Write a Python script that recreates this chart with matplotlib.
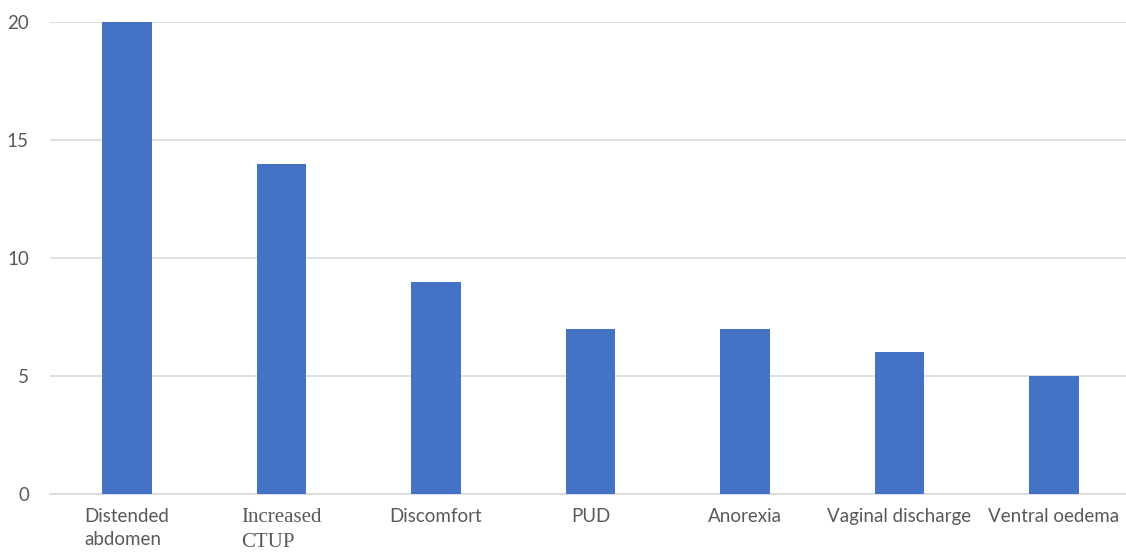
import matplotlib.pyplot as plt
import numpy as np

# symptoms and counts
categories = ['Distended\nabdomen', 'Increased\nCTUP', 'Discomfort', 'PUD',
              'Anorexia', 'Vaginal discharge', 'Ventral oedema']
values = [20, 14, 9, 7, 7, 6, 5]
yticks = [0, 5, 10, 15, 20]

plt.rcParams['font.family'] = ['Lato', 'DejaVu Sans']

fig = plt.figure(figsize=(11.26, 5.53), dpi=100)
ax = fig.add_axes([49.75 / 1126, 59 / 553, 1081.5 / 1126, 472 / 553])

x = np.arange(len(categories))
ax.bar(x, values, width=0.32, color='#4472c4', zorder=3)

ax.set_xlim(-0.5, len(categories) - 0.5)
ax.set_ylim(0, 20)
ax.set_yticks(yticks)
ax.set_yticklabels([str(t) for t in yticks])
ax.grid(axis='y', color='#d9d9d9', linewidth=1.2, zorder=0)

for s in ['top', 'right', 'left']:
    ax.spines[s].set_visible(False)
ax.spines['bottom'].set_color('#d9d9d9')
ax.spines['bottom'].set_linewidth(1.2)

ax.tick_params(axis='both', length=0, labelsize=13.5, colors='#595959')
ax.tick_params(axis='x', pad=10)
ax.tick_params(axis='y', pad=15)

ax.set_xticks(x)
ax.set_xticklabels(categories, multialignment='left', linespacing=1.45)
for lbl in ax.get_xticklabels():
    if 'CTUP' in lbl.get_text():
        lbl.set_family(['Liberation Serif', 'DejaVu Serif'])
        lbl.set_fontsize(15)

fig.savefig('out.png', dpi=100)
